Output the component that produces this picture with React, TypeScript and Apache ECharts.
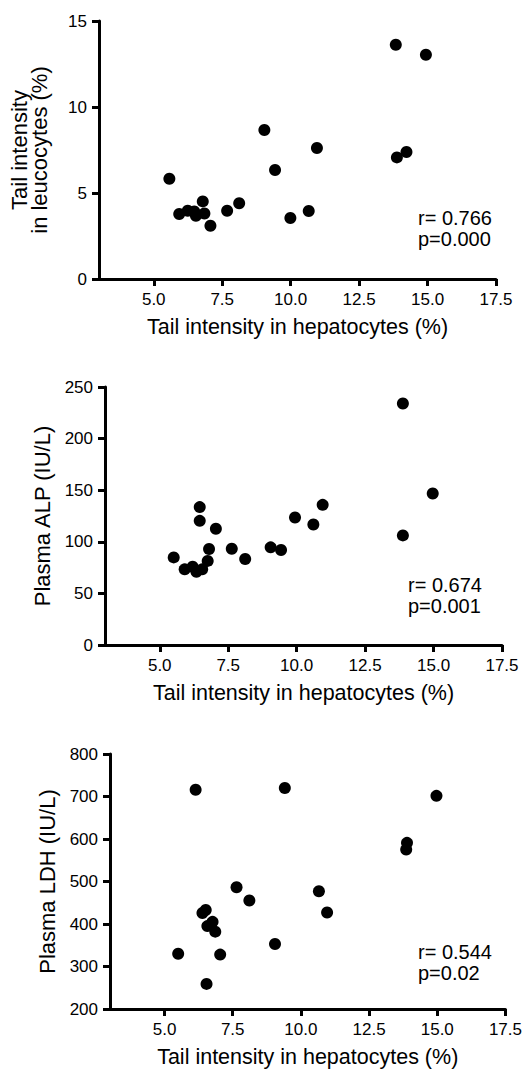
import React, { useEffect, useRef } from "react";
import * as echarts from "echarts";

// Shared x ticks (tail intensity in hepatocytes, %)
const xTicks = [5.0, 7.5, 10.0, 12.5, 15.0, 17.5];

// Panel 1: tail intensity in leucocytes vs hepatocytes
const hepA = [13.84, 14.94, 9.04, 10.96, 13.88, 14.23, 9.43, 5.57, 8.12, 7.68, 10.66, 9.99, 7.07, 5.93, 6.24, 6.48, 6.79, 6.54, 6.85];
const leucocytes = [13.62, 13.04, 8.66, 7.62, 7.07, 7.38, 6.34, 5.83, 4.4, 3.97, 3.95, 3.55, 3.1, 3.78, 3.97, 3.93, 4.51, 3.68, 3.81];

// Panel 2: plasma ALP vs hepatocytes
const hepB = [13.88, 14.97, 13.88, 10.95, 9.94, 10.61, 9.05, 9.43, 7.63, 8.12, 7.05, 6.46, 6.46, 6.8, 6.75, 6.55, 5.51, 5.91, 6.2, 6.34];
const alp = [234, 146.8, 106.2, 135.8, 123.6, 116.8, 94.6, 92, 93.2, 83.3, 112.6, 133.6, 120.3, 93, 81.5, 73.3, 84.9, 73.3, 75.8, 71];

// Panel 3: plasma LDH vs hepatocytes
const hepC = [6.14, 9.41, 14.97, 13.89, 13.86, 7.64, 8.11, 10.66, 10.96, 9.05, 5.5, 7.04, 6.54, 6.39, 6.51, 6.57, 6.76, 6.86];
const ldh = [716, 720, 701.5, 591, 575, 486.6, 455.4, 477, 427, 353, 330, 328, 259, 426, 433, 395, 405, 382];

const xTitle = "Tail intensity in hepatocytes (%)";
const yTitles = ["Tail intensity\nin leucocytes (%)", "Plasma ALP (IU/L)", "Plasma LDH (IU/L)"];
const yRanges = [
  { min: 0, max: 15, interval: 5 },
  { min: 0, max: 250, interval: 50 },
  { min: 200, max: 800, interval: 100 },
];
const stats = [
  ["r= 0.766", "p=0.000"],
  ["r= 0.674", "p=0.001"],
  ["r= 0.544", "p=0.02"],
];

const FONT = "Liberation Sans, Arial, Helvetica, sans-serif";

export default function App() {
  const ref = useRef<HTMLDivElement>(null);
  useEffect(() => {
    const chart = echarts.init(ref.current!, null, { renderer: "svg" });
    const grids = [
      { left: 99, top: 21, width: 397, height: 258 },
      { left: 105, top: 387, width: 397, height: 258 },
      { left: 110, top: 754, width: 396, height: 255 },
    ];
    const statPos = [
      { left: 418, top: 207 },
      { left: 408, top: 574 },
      { left: 418, top: 941 },
    ];
    const pairs = [
      [hepA, leucocytes],
      [hepB, alp],
      [hepC, ldh],
    ];

    chart.setOption({
      animation: false,
      title: stats.map((s, i) => ({
        text: s.join("\n"),
        left: statPos[i].left,
        top: statPos[i].top,
        padding: 0,
        textStyle: { color: "#000", fontSize: 20, fontWeight: "normal", fontFamily: FONT, lineHeight: 21 },
      })),
      grid: grids,
      xAxis: grids.map((_, i) => ({
        type: "value",
        gridIndex: i,
        min: 3,
        max: 17.5,
        name: xTitle,
        nameLocation: "middle",
        nameGap: 37,
        nameTextStyle: { color: "#000", fontSize: 21.5, fontFamily: FONT },
        axisLine: { show: true, lineStyle: { color: "#000", width: 3 } },
        axisTick: { show: true, length: 7, lineStyle: { color: "#000", width: 3 }, customValues: xTicks },
        axisLabel: {
          customValues: xTicks,
          formatter: (v: number) => v.toFixed(1),
          color: "#000",
          fontSize: 17,
          fontFamily: FONT,
          margin: 12,
        },
        splitLine: { show: false },
      })),
      yAxis: grids.map((_, i) => ({
        type: "value",
        gridIndex: i,
        ...yRanges[i],
        name: yTitles[i],
        nameLocation: "middle",
        nameRotate: 90,
        nameGap: 50,
        nameTextStyle: { color: "#000", fontSize: 22, fontFamily: FONT, lineHeight: 20 },
        axisLine: { show: true, lineStyle: { color: "#000", width: 3 } },
        axisTick: { show: true, length: 7, lineStyle: { color: "#000", width: 3 } },
        axisLabel: { color: "#000", fontSize: 17, fontFamily: FONT, margin: 12 },
        splitLine: { show: false },
      })),
      series: pairs.map(([xs, ys], i) => ({
        type: "scatter",
        xAxisIndex: i,
        yAxisIndex: i,
        symbolSize: 12,
        itemStyle: { color: "#000", opacity: 1 },
        data: xs.map((x, k) => [x, ys[k]]),
      })),
    });
    return () => chart.dispose();
  }, []);
  return (
    <div
      ref={ref}
      style={{ position: "absolute", left: 0, top: 0, width: 525, height: 1069, background: "#fff" }}
    />
  );
}
